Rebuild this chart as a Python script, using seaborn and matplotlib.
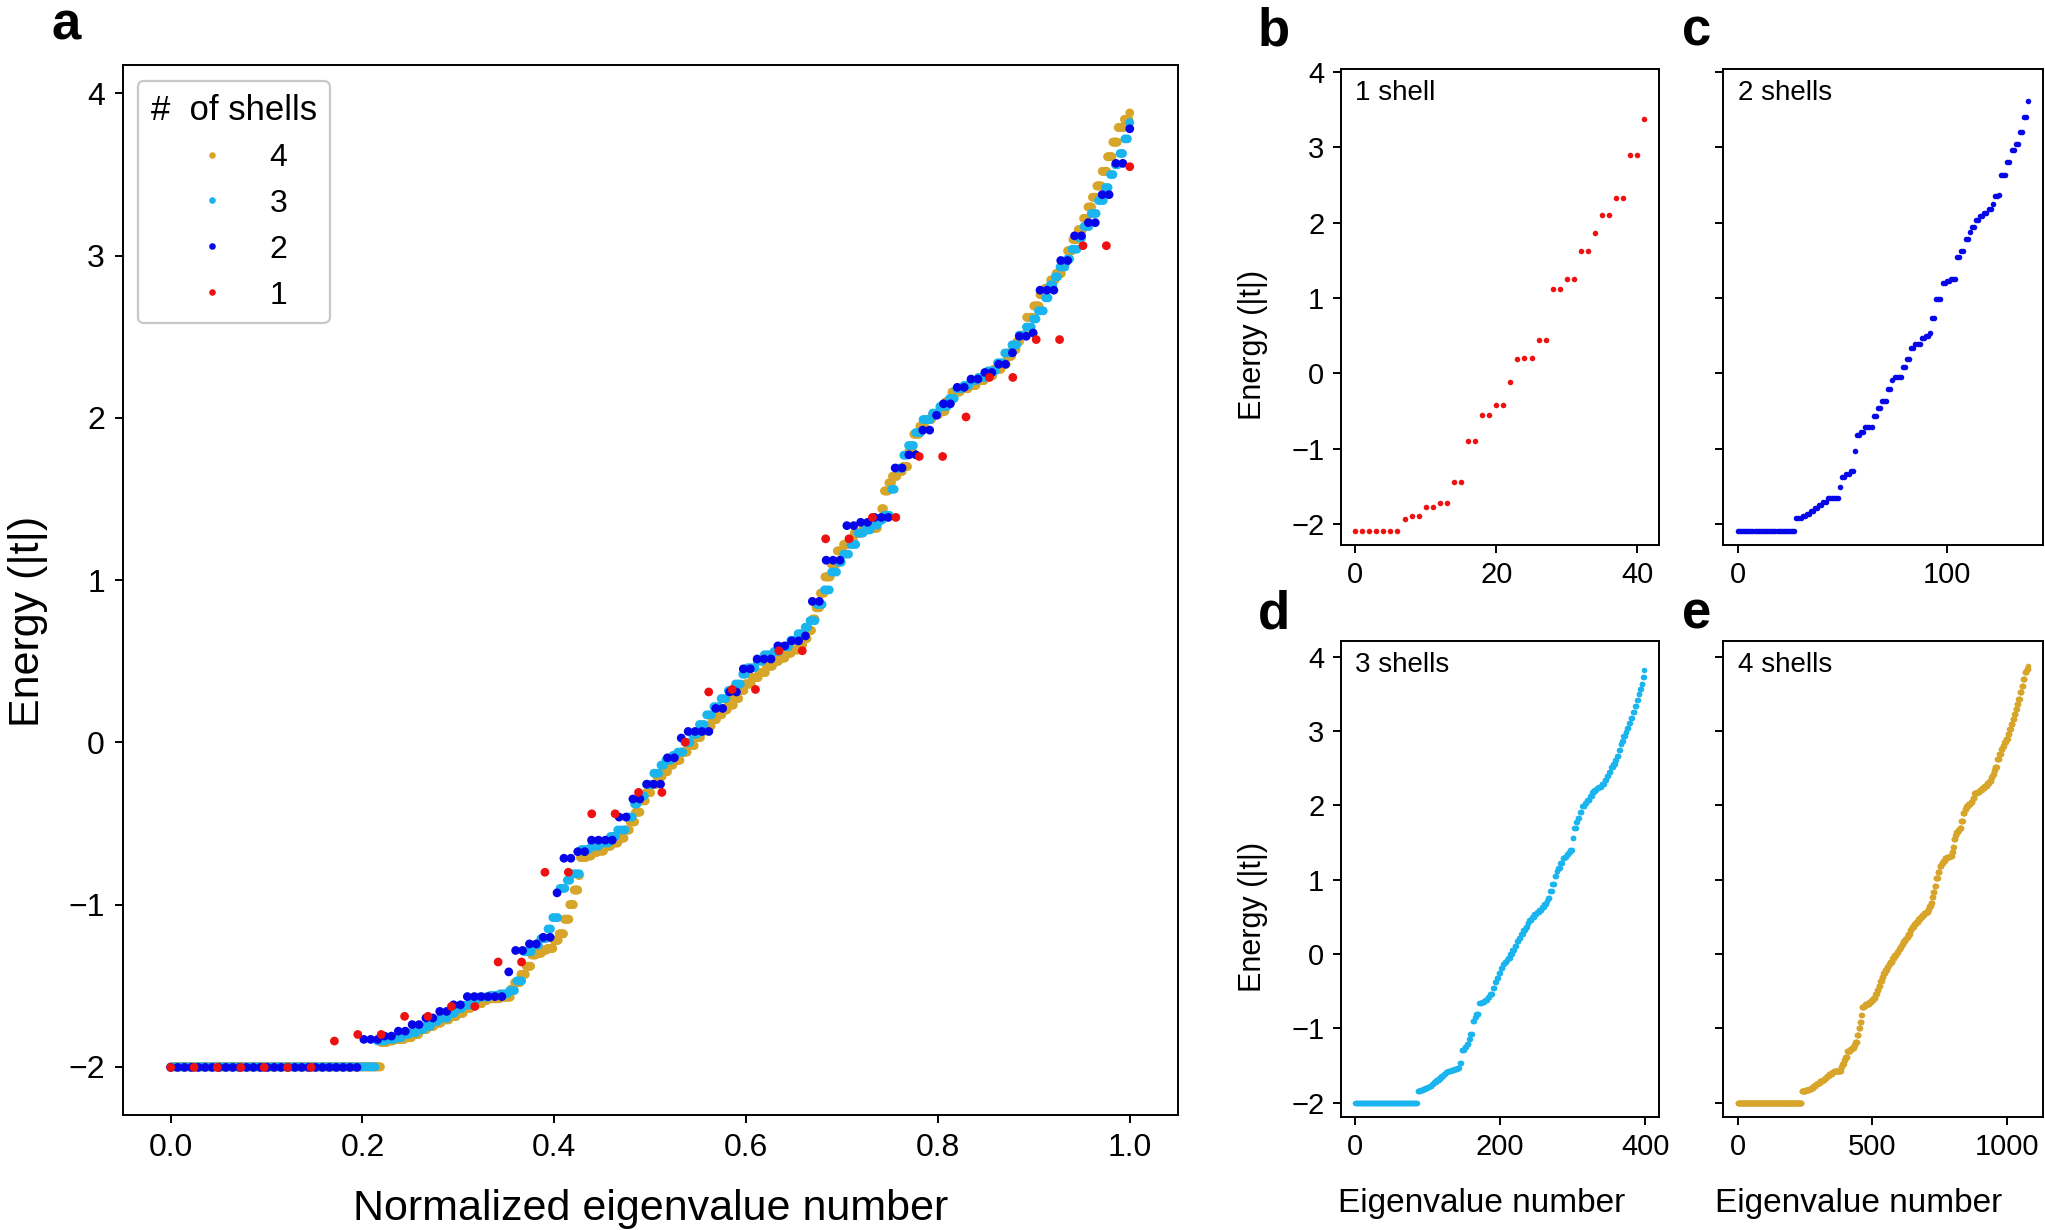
""" Tight-binding spectra for 1-4 shells """

import numpy as np
import pandas as pd
import seaborn as sns
import matplotlib
matplotlib.use("Agg")
import matplotlib.pyplot as plt

# Sorted eigenvalues, read off as (energy, multiplicity) levels
# shells 1 and 2 as read in panels b and c
shell1_energy = [-2.09, -1.93, -1.89, -1.78, -1.72, -1.45, -0.905, -0.55, -0.42,
                 -0.115, 0.19, 0.205, 0.44, 1.12, 1.25, 1.62, 1.86, 2.10, 2.33,
                 2.90, 3.38]
shell1_count = [7, 1, 2, 2, 2, 2, 2, 2, 2, 1, 1, 2, 2, 2, 2, 2, 1, 2, 2, 2, 1]

shell2_energy = [-2.09, -1.92, -1.90, -1.87, -1.83, -1.79, -1.75, -1.71, -1.66,
                 -1.51, -1.38, -1.34, -1.30, -1.03, -0.82, -0.78, -0.71, -0.57,
                 -0.46, -0.37, -0.21, -0.09, -0.05, 0.09, 0.19, 0.33, 0.39, 0.47,
                 0.50, 0.53, 0.74, 0.99, 1.20, 1.22, 1.25, 1.55, 1.63, 1.78, 1.87,
                 1.94, 2.04, 2.09, 2.13, 2.18, 2.25, 2.35, 2.37, 2.63, 2.81, 2.96,
                 3.04, 3.21, 3.40, 3.61]
shell2_count = [28, 3, 2, 2, 2, 2, 2, 2, 6, 1, 2, 2, 2, 1, 2, 2, 4, 2, 2, 3, 2,
                1, 4, 2, 2, 2, 3, 2, 2, 1, 2, 3, 2, 2, 3, 2, 2, 2, 1, 2, 2, 2, 2,
                2, 1, 2, 1, 3, 2, 2, 2, 2, 2, 1]

shell3_energy = [-2.00,
                 -1.84, -1.83, -1.82, -1.80, -1.79, -1.77, -1.75, -1.72,
                 -1.70, -1.67, -1.64, -1.62, -1.59, -1.57, -1.56, -1.55, -1.53,
                 -1.47, -1.29, -1.25, -1.21, -1.15, -1.08, -0.90, -0.85, -0.81,
                 -0.66, -0.64, -0.62, -0.58, -0.54, -0.46, -0.38, -0.33, -0.26,
                 -0.19, -0.14, -0.11, -0.08, -0.06, 0.00, 0.05, 0.11, 0.17, 0.22,
                 0.27, 0.32, 0.36, 0.42, 0.46, 0.50, 0.54, 0.56, 0.59, 0.63,
                 0.67, 0.71, 0.75, 0.85, 0.94, 1.05, 1.11, 1.16, 1.22, 1.29,
                 1.31, 1.34, 1.37, 1.40, 1.56, 1.69, 1.77, 1.83, 1.91, 1.99,
                 2.03, 2.07, 2.12, 2.18, 2.20, 2.23, 2.25, 2.29, 2.34, 2.40,
                 2.45, 2.51, 2.56, 2.61, 2.66, 2.74, 2.82, 2.87, 2.93, 2.98,
                 3.04, 3.11, 3.18, 3.26, 3.34, 3.42, 3.50, 3.56, 3.63, 3.72,
                 3.82]
shell3_count = [86,
                4, 4, 3, 3, 3, 3, 3, 3,
                4, 3, 3, 3, 3, 5, 4, 4, 3,
                3, 4, 3, 3, 2, 3, 3, 2, 4,
                4, 4, 4, 3, 4, 3, 2, 3, 3,
                3, 2, 3, 2, 3, 3, 3, 3, 3, 3,
                3, 3, 3, 2, 4, 3, 4, 3, 4, 3,
                3, 2, 3, 3, 3, 3, 2, 3, 3, 3,
                3, 3, 2, 3, 2, 3, 2, 3, 3, 4,
                3, 4, 3, 3, 3, 3, 4, 4, 3, 3,
                3, 3, 3, 2, 3, 2, 2, 2, 3, 2,
                3, 2, 3, 3, 3, 2, 2, 2, 2, 2,
                1]

shell4_energy = [-2.00,
                 -1.85, -1.84, -1.83, -1.83, -1.82, -1.80, -1.77, -1.75, -1.73,
                 -1.71, -1.69, -1.67, -1.64, -1.62, -1.61, -1.59, -1.58, -1.58,
                 -1.57, -1.57, -1.52, -1.48, -1.43, -1.38, -1.31, -1.30, -1.28,
                 -1.27, -1.22, -1.18, -1.09, -1.00, -0.91, -0.82, -0.71, -0.70,
                 -0.68, -0.67, -0.64, -0.62, -0.59, -0.54, -0.49, -0.43, -0.36,
                 -0.31, -0.26, -0.21, -0.18, -0.14, -0.11, -0.06, -0.02, 0.03,
                 0.07, 0.10, 0.14, 0.17, 0.20, 0.23, 0.27, 0.32, 0.36, 0.40,
                 0.43, 0.47, 0.50, 0.52, 0.55, 0.57, 0.60, 0.64, 0.69, 0.76,
                 0.83, 0.92, 1.02, 1.10, 1.18, 1.22, 1.25, 1.29, 1.31, 1.32,
                 1.37, 1.44, 1.55, 1.60, 1.64, 1.67, 1.70, 1.79, 1.90, 1.95,
                 1.99, 2.02, 2.04, 2.10, 2.16, 2.18, 2.20, 2.23, 2.26, 2.30,
                 2.33, 2.38, 2.42, 2.47, 2.51, 2.62, 2.69, 2.76, 2.80, 2.85,
                 2.89, 2.96, 3.03, 3.10, 3.16, 3.23, 3.30, 3.36, 3.43, 3.52,
                 3.61, 3.70, 3.79, 3.84, 3.88]
shell4_count = [237,
                7, 7, 7, 6, 8, 8, 9, 8, 8,
                9, 8, 8, 8, 7, 6, 6, 7, 7,
                7, 5, 4, 7, 6, 6, 6, 6, 6,
                7, 6, 6, 6, 5, 5, 2, 7, 6,
                6, 8, 8, 8, 7, 6, 6, 6, 6,
                6, 6, 7, 6, 6, 8, 8, 8, 7,
                6, 6, 6, 6, 6, 7, 6, 6, 8,
                8, 8, 8, 7, 7, 7, 8, 5, 5,
                5, 4, 5, 5, 7, 7, 7, 6, 6,
                9, 9, 9, 4, 3, 5, 4, 6, 6,
                6, 6, 7, 6, 8, 8, 7, 7, 10,
                9, 9, 9, 10, 9, 6, 6, 5, 4,
                7, 8, 7, 6, 6, 6, 7, 6, 6,
                6, 6, 5, 5, 5, 6, 6, 6, 6,
                7, 6, 1]

# panels b and c sit on a slightly offset energy axis relative to panel a
bc_scale = 1.015
bc_shift = 0.118

shell_labels = ["4", "3", "2", "1"]
shell_colors = {"4": "#d6a52a", "3": "#1ab4ee", "2": "#0606e8", "1": "#ee1111"}


def spectrum(energy, count):
    return np.repeat(np.asarray(energy, dtype=float), count)


def main():
    sns.set_style("ticks", {"axes.edgecolor": "black", "xtick.color": "black",
                            "ytick.color": "black", "axes.labelcolor": "black",
                            "text.color": "black"})
    plt.rcParams['font.family'] = ['Liberation Sans', 'DejaVu Sans']
    plt.rcParams['axes.linewidth'] = 1.4

    e1 = spectrum(shell1_energy, shell1_count)
    e2 = spectrum(shell2_energy, shell2_count)
    e3 = spectrum(shell3_energy, shell3_count)
    e4 = spectrum(shell4_energy, shell4_count)

    spectra_a = {"4": e4, "3": e3,
                 "2": e2 * bc_scale + bc_shift,
                 "1": e1 * bc_scale + bc_shift}

    # combined frame, drawn 4 -> 1 so one shell ends up on top
    frames = []
    for lab in shell_labels:
        e = spectra_a[lab]
        frames.append(pd.DataFrame({"x": np.arange(len(e)) / (len(e) - 1),
                                    "E": e, "shells": lab}))
    all_df = pd.concat(frames, ignore_index=True)

    fig = plt.figure(figsize=(20.45, 12.30), dpi=100)
    ax_a = fig.add_axes([0.0600, 0.0934, 0.5159, 0.8536])
    ax_b = fig.add_axes([0.6556, 0.5569, 0.1556, 0.3870])
    ax_c = fig.add_axes([0.8427, 0.5569, 0.1562, 0.3870])
    ax_d = fig.add_axes([0.6556, 0.0921, 0.1556, 0.3867])
    ax_e = fig.add_axes([0.8427, 0.0921, 0.1562, 0.3867])

    # Panel a
    sns.scatterplot(data=all_df, x="x", y="E", hue="shells",
                    hue_order=shell_labels, palette=shell_colors,
                    s=40, linewidth=0, ax=ax_a)
    ax_a.set_xticks([0.0, 0.2, 0.4, 0.6, 0.8, 1.0])
    ax_a.set_yticks([-2, -1, 0, 1, 2, 3, 4])
    ax_a.set_xlabel("Normalized eigenvalue number", fontsize=31)
    ax_a.set_ylabel("Energy (|t|)", fontsize=31)
    ax_a.xaxis.set_label_coords(0.5, -0.070)
    ax_a.yaxis.set_label_coords(-0.071, 0.47)
    ax_a.tick_params(direction='out', length=5.8, width=1.4, pad=7, labelsize=23)
    sns.move_legend(ax_a, "upper left", bbox_to_anchor=(0.0146, 0.985),
                    borderaxespad=0, title="#  of shells", fontsize=23,
                    title_fontsize=25, frameon=True, markerscale=0.75,
                    labelspacing=0.5, fancybox=True, edgecolor="#c8c8c8",
                    framealpha=1)
    ax_a.get_legend().get_frame().set_linewidth(1.6)

    # Panels b-e
    small = [(ax_b, e1, "1", "1 shell", [0, 20, 40], (-2.28, 4.04)),
             (ax_c, e2, "2", "2 shells", [0, 100], (-2.28, 4.04)),
             (ax_d, e3, "3", "3 shells", [0, 200, 400], (-2.19, 4.21)),
             (ax_e, e4, "4", "4 shells", [0, 500, 1000], (-2.19, 4.21))]
    for ax, e, lab, text, xt, ylim in small:
        sns.scatterplot(x=np.arange(len(e)), y=e, color=shell_colors[lab],
                        s=16, linewidth=0, ax=ax)
        ax.set_xticks(xt)
        ax.set_yticks([-2, -1, 0, 1, 2, 3, 4])
        ax.set_ylim(*ylim)
        ax.tick_params(direction='out', length=5.8, width=1.4, pad=6, labelsize=21)
        ax.text(0.045, 0.935, text, transform=ax.transAxes, fontsize=20,
                ha='left', va='baseline')

    for ax in (ax_c, ax_e):
        ax.tick_params(labelleft=False)
    for ax in (ax_b, ax_d):
        ax.set_ylabel("Energy (|t|)", fontsize=22)
        ax.yaxis.set_label_coords(-0.228, 0.42)
    for ax in (ax_d, ax_e):
        ax.set_xlabel("Eigenvalue number", fontsize=24)
    ax_d.xaxis.set_label_coords(0.442, -0.15)
    ax_e.xaxis.set_label_coords(0.425, -0.15)

    # Panel letters
    for x, y, s in [(0.0254, 0.968, "a"), (0.615, 0.963, "b"),
                    (0.8225, 0.963, "c"), (0.615, 0.489, "d"),
                    (0.8225, 0.489, "e")]:
        fig.text(x, y, s, fontsize=38, fontweight='bold', va='baseline')

    fig.savefig("out.png", dpi=100)
    plt.close(fig)


if __name__ == '__main__':
    main()
